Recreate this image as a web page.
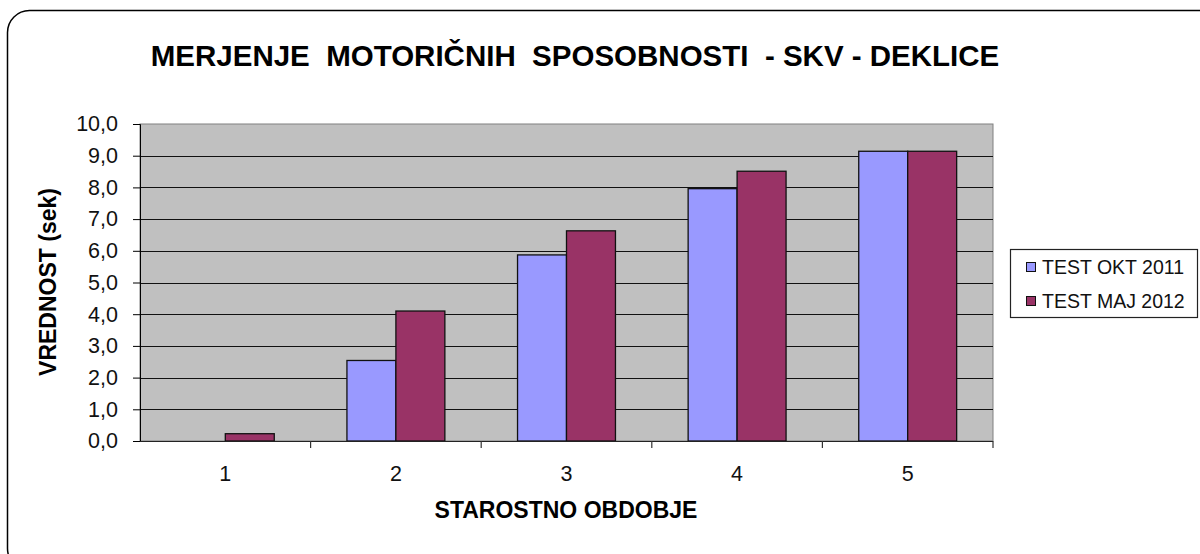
<!DOCTYPE html>
<html>
<head>
<meta charset="utf-8">
<script src="https://cdn.jsdelivr.net/npm/d3@7"></script>
<style>
  body { margin: 0; background: #fff; }
  text { font-family: "Liberation Sans", Arial, sans-serif; }
</style>
</head>
<body>
<div id="chart"></div>
<script>
// Data
const categories = ["1", "2", "3", "4", "5"];
const seriesNames = ["TEST OKT 2011", "TEST MAJ 2012"];
const okt2011 = [null, 2.54, 5.87, 7.96, 9.14];
const maj2012 = [0.23, 4.1, 6.63, 8.51, 9.14];
const yTicks = [0, 1, 2, 3, 4, 5, 6, 7, 8, 9, 10];
const colors = ["#9999FF", "#993366"];

const values = [okt2011, maj2012];

// Dimensions
const width = 1200;
const height = 554;
const plot = { left: 140, top: 124, right: 993, bottom: 441 };

const svg = d3
  .select("#chart")
  .append("svg")
  .attr("width", width)
  .attr("height", height);

// outer frame (rounded, runs off the right/bottom edge)
svg
  .append("rect")
  .attr("x", 7.5)
  .attr("y", 10.5)
  .attr("width", 1215)
  .attr("height", 560)
  .attr("rx", 22)
  .attr("fill", "#fff")
  .attr("stroke", "#000")
  .attr("stroke-width", 1.5);

// Scales
const x0 = d3
  .scaleBand()
  .domain(categories)
  .range([plot.left, plot.right])
  .paddingInner(0.426)
  .paddingOuter(0.213);

const x1 = d3
  .scaleBand()
  .domain(seriesNames)
  .range([0, x0.bandwidth()]);

const yScale = d3
  .scaleLinear()
  .domain([0, 10])
  .range([plot.bottom, plot.top]);

// plot background
svg
  .append("rect")
  .attr("x", plot.left)
  .attr("y", plot.top)
  .attr("width", plot.right - plot.left)
  .attr("height", plot.bottom - plot.top)
  .attr("fill", "#C0C0C0")
  .attr("stroke", "#808080")
  .attr("stroke-width", 1);

// gridlines
svg
  .append("g")
  .selectAll("line")
  .data(yTicks.filter((d) => d > 0 && d < 10))
  .join("line")
  .attr("x1", plot.left)
  .attr("x2", plot.right)
  .attr("y1", (d) => Math.round(yScale(d)) + 0.5)
  .attr("y2", (d) => Math.round(yScale(d)) + 0.5)
  .attr("stroke", "#111")
  .attr("stroke-width", 1.2);

// Bars
const groups = svg
  .append("g")
  .selectAll("g")
  .data(categories)
  .join("g")
  .attr("transform", (d) => `translate(${x0(d)},0)`);

groups
  .selectAll("rect")
  .data((d, i) =>
    seriesNames.map((s, j) => ({ s, j, v: values[j][i] }))
  )
  .join("rect")
  .filter((d) => d.v != null)
  .attr("x", (d) => x1(d.s))
  .attr("y", (d) => yScale(d.v))
  .attr("width", x1.bandwidth())
  .attr("height", (d) => yScale(0) - yScale(d.v))
  .attr("fill", (d) => colors[d.j])
  .attr("stroke", "#111")
  .attr("stroke-width", 1.3);

// Axes
const yAxis = d3
  .axisLeft(yScale)
  .tickValues(yTicks)
  .tickSize(7)
  .tickPadding(15)
  .tickFormat((d) => d3.format(".1f")(d).replace(".", ","));

const yAxisGroup = svg
  .append("g")
  .attr("transform", `translate(${plot.left},0)`)
  .call(yAxis);

yAxisGroup.selectAll("text").style("font-size", "21.5px").attr("fill", "#111");

// x axis: ticks at the band boundaries, labels in the middle
const xAxisGroup = svg.append("g");
xAxisGroup
  .append("line")
  .attr("x1", plot.left)
  .attr("x2", plot.right)
  .attr("y1", plot.bottom + 0.5)
  .attr("y2", plot.bottom + 0.5)
  .attr("stroke", "#222")
  .attr("stroke-width", 1.2);

const step = x0.step();
xAxisGroup
  .selectAll(".xtick")
  .data(categories)
  .join("line")
  .attr("class", "xtick")
  .attr("x1", (d) => x0(d) - x0.paddingOuter() * step + step)
  .attr("x2", (d) => x0(d) - x0.paddingOuter() * step + step)
  .attr("y1", plot.bottom)
  .attr("y2", plot.bottom + 7)
  .attr("stroke", "#333")
  .attr("stroke-width", 1.2);

xAxisGroup
  .selectAll(".xlabel")
  .data(categories)
  .join("text")
  .attr("class", "xlabel")
  .attr("x", (d) => x0(d) + x0.bandwidth() / 2)
  .attr("y", 481)
  .attr("text-anchor", "middle")
  .style("font-size", "21.5px")
  .attr("fill", "#111")
  .text((d) => d);

// Titles
svg
  .append("text")
  .attr("x", 575)
  .attr("y", 66)
  .attr("text-anchor", "middle")
  .style("font-size", "29.5px")
  .style("font-weight", "bold")
  .style("white-space", "pre")
  .attr("xml:space", "preserve")
  .text("MERJENJE  MOTORIČNIH  SPOSOBNOSTI  - SKV - DEKLICE");

svg
  .append("text")
  .attr("x", 566)
  .attr("y", 518)
  .attr("text-anchor", "middle")
  .style("font-size", "23px")
  .style("font-weight", "bold")
  .text("STAROSTNO OBDOBJE");

svg
  .append("text")
  .attr("transform", "translate(56,282) rotate(-90)")
  .attr("text-anchor", "middle")
  .style("font-size", "23px")
  .style("font-weight", "bold")
  .text("VREDNOST (sek)");

// Legend
const legend = svg.append("g");
legend
  .append("rect")
  .attr("x", 1010.5)
  .attr("y", 249.5)
  .attr("width", 187)
  .attr("height", 68)
  .attr("fill", "#fff")
  .attr("stroke", "#222")
  .attr("stroke-width", 1.2);

const items = legend
  .selectAll(".item")
  .data(seriesNames)
  .join("g")
  .attr("class", "item")
  .attr("transform", (d, i) => `translate(1026,${267 + i * 34})`);

items
  .append("rect")
  .attr("x", 0.5)
  .attr("y", -4.5)
  .attr("width", 9)
  .attr("height", 9)
  .attr("fill", (d, i) => colors[i])
  .attr("stroke", "#111");

items
  .append("text")
  .attr("x", 16)
  .attr("y", 7)
  .style("font-size", "19.5px")
  .attr("fill", "#111")
  .text((d) => d);
</script>
</body>
</html>
